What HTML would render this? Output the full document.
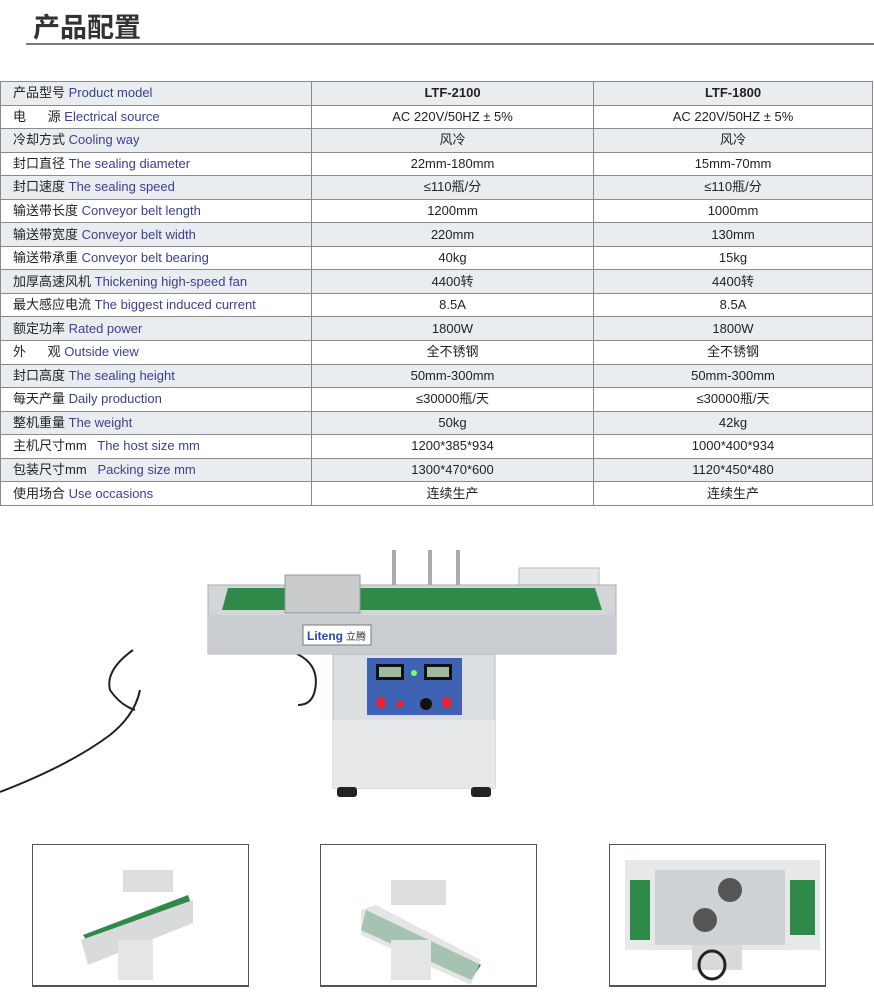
<!DOCTYPE html>
<html><head><meta charset="utf-8"><style>
body{margin:0;width:874px;height:1000px;background:#fff;position:relative;overflow:hidden;font-family:"Liberation Sans","Noto Sans CJK SC",sans-serif;}
.a{position:absolute}
table{position:absolute;left:0;top:81px;width:873px;border-collapse:collapse;font-size:13px;}
td{height:22.55px;border:1px solid #8a8a8a;padding:0;color:#222;line-height:14px;vertical-align:middle;}
td:first-child{padding-left:12px;width:298px}
td:nth-child(2){text-align:center;width:281px}
td:nth-child(3){text-align:center}
tr:nth-child(odd) td{background:#e9edf0}
.e{color:#3a3f8f}
.box{position:absolute;top:844px;width:217px;height:143px;border:1px solid #555;border-width:1px 1px 2px 1px;background:#fff;box-sizing:border-box}
</style></head><body>
<div class="a" style="left:33px;top:6px;font-size:27px;font-weight:bold;color:#333;font-family:'Noto Sans CJK SC',sans-serif">产品配置</div>
<div class="a" style="left:26px;top:43px;width:848px;height:2px;background:#777"></div>
<table>
<tr><td>产品型号 <span class="e">Product model</span></td><td><b>LTF-2100</b></td><td><b>LTF-1800</b></td></tr>
<tr><td>电&nbsp;&nbsp;&nbsp;&nbsp;&nbsp;&nbsp;源 <span class="e">Electrical source</span></td><td>AC 220V/50HZ ± 5%</td><td>AC 220V/50HZ ± 5%</td></tr>
<tr><td>冷却方式 <span class="e">Cooling way</span></td><td>风冷</td><td>风冷</td></tr>
<tr><td>封口直径 <span class="e">The sealing diameter</span></td><td>22mm-180mm</td><td>15mm-70mm</td></tr>
<tr><td>封口速度 <span class="e">The sealing speed</span></td><td>≤110瓶/分</td><td>≤110瓶/分</td></tr>
<tr><td>输送带长度 <span class="e">Conveyor belt length</span></td><td>1200mm</td><td>1000mm</td></tr>
<tr><td>输送带宽度 <span class="e">Conveyor belt width</span></td><td>220mm</td><td>130mm</td></tr>
<tr><td>输送带承重 <span class="e">Conveyor belt bearing</span></td><td>40kg</td><td>15kg</td></tr>
<tr><td>加厚高速风机 <span class="e">Thickening high-speed fan</span></td><td>4400转</td><td>4400转</td></tr>
<tr><td>最大感应电流 <span class="e">The biggest induced current</span></td><td>8.5A</td><td>8.5A</td></tr>
<tr><td>额定功率 <span class="e">Rated power</span></td><td>1800W</td><td>1800W</td></tr>
<tr><td>外&nbsp;&nbsp;&nbsp;&nbsp;&nbsp;&nbsp;观 <span class="e">Outside view</span></td><td>全不锈钢</td><td>全不锈钢</td></tr>
<tr><td>封口高度 <span class="e">The sealing height</span></td><td>50mm-300mm</td><td>50mm-300mm</td></tr>
<tr><td>每天产量 <span class="e">Daily production</span></td><td>≤30000瓶/天</td><td>≤30000瓶/天</td></tr>
<tr><td>整机重量 <span class="e">The weight</span></td><td>50kg</td><td>42kg</td></tr>
<tr><td>主机尺寸mm&nbsp;&nbsp; <span class="e">The host size mm</span></td><td>1200*385*934</td><td>1000*400*934</td></tr>
<tr><td>包装尺寸mm&nbsp;&nbsp; <span class="e">Packing size mm</span></td><td>1300*470*600</td><td>1120*450*480</td></tr>
<tr><td>使用场合 <span class="e">Use occasions</span></td><td>连续生产</td><td>连续生产</td></tr>
</table>

<svg class="a" style="left:0;top:530px" width="874" height="280">
<path d="M0 262 Q70 235 110 205 Q135 185 140 160" stroke="#222" stroke-width="2" fill="none"/>
<path d="M133 120 Q105 140 110 160 Q120 175 135 180" stroke="#222" stroke-width="2" fill="none"/>
<path d="M297 124 Q320 135 315 160 Q312 175 298 175" stroke="#222" stroke-width="2" fill="none"/>
<g transform="translate(200,0)">
<rect x="133" y="124" width="162" height="134" fill="#dcdfe2" stroke="#bbb"/>
<rect x="133" y="190" width="162" height="68" fill="#e6e8ea"/>
<rect x="137" y="257" width="20" height="10" rx="3" fill="#222"/>
<rect x="271" y="257" width="20" height="10" rx="3" fill="#222"/>
<rect x="167" y="128" width="95" height="57" fill="#3f63b3"/>
<rect x="176" y="134" width="28" height="16" fill="#111"/><rect x="179" y="137" width="22" height="10" fill="#9fb8a0"/>
<rect x="224" y="134" width="28" height="16" fill="#111"/><rect x="227" y="137" width="22" height="10" fill="#9fb8a0"/>
<circle cx="214" cy="143" r="3" fill="#7f7"/>
<rect x="177" y="168" width="8" height="10" fill="#e22"/><rect x="243" y="168" width="8" height="10" fill="#e22"/>
<circle cx="200" cy="174" r="3.5" fill="#e22"/><circle cx="226" cy="174" r="6" fill="#111"/>
<rect x="192" y="20" width="4" height="35" fill="#aaa"/><rect x="228" y="20" width="4" height="35" fill="#aaa"/><rect x="256" y="20" width="4" height="35" fill="#aaa"/>
<rect x="319" y="38" width="80" height="18" fill="#e5e7e9" stroke="#bbb"/>
<rect x="8" y="55" width="408" height="69" fill="#d3d6d9" stroke="#aaa"/>
<rect x="8" y="85" width="408" height="39" fill="#c9ccd0"/>
<polygon points="28,58 395,58 402,80 22,80" fill="#2f8a4a"/>
<rect x="85" y="45" width="75" height="38" fill="#c8cacc" stroke="#999"/>
<rect x="103" y="95" width="68" height="20" fill="#fff" stroke="#777"/>
<text x="107" y="110" font-size="12" font-weight="bold" fill="#2447a8" font-family="Liberation Sans,sans-serif">Liteng</text>
<text x="146" y="110" font-size="10" fill="#333" font-family="Noto Sans CJK SC,sans-serif">立腾</text>
</g>
</svg>

<div class="box" style="left:32px">
<svg width="215" height="140"><rect x="90" y="25" width="50" height="22" fill="#ddd"/><polygon points="50,90 155,50 160,65 60,105" fill="#2f8a4a"/><polygon points="48,95 160,55 160,78 55,120" fill="#d8dadc"/><rect x="85" y="95" width="35" height="40" fill="#e3e5e7"/></svg></div>
<div class="box" style="left:320px">
<svg width="215" height="140"><rect x="70" y="35" width="55" height="25" fill="#ddd"/><polygon points="45,65 160,120 150,135 40,85" fill="#2f8a4a"/><polygon points="40,65 55,60 160,115 150,140 40,90" fill="#d8dadc" opacity=".7"/><rect x="70" y="95" width="40" height="40" fill="#e3e5e7"/></svg></div>
<div class="box" style="left:609px">
<svg width="215" height="140"><rect x="15" y="15" width="195" height="90" fill="#e6e8ea"/><rect x="20" y="35" width="20" height="60" fill="#2f8a4a"/><rect x="180" y="35" width="25" height="55" fill="#2f8a4a"/><rect x="45" y="25" width="130" height="75" fill="#cfd2d5"/><circle cx="120" cy="45" r="12" fill="#555"/><circle cx="95" cy="75" r="12" fill="#555"/><rect x="82" y="100" width="50" height="25" fill="#d8dadc"/><ellipse cx="102" cy="120" rx="13" ry="14" fill="none" stroke="#222" stroke-width="3"/></svg></div>
</body></html>
